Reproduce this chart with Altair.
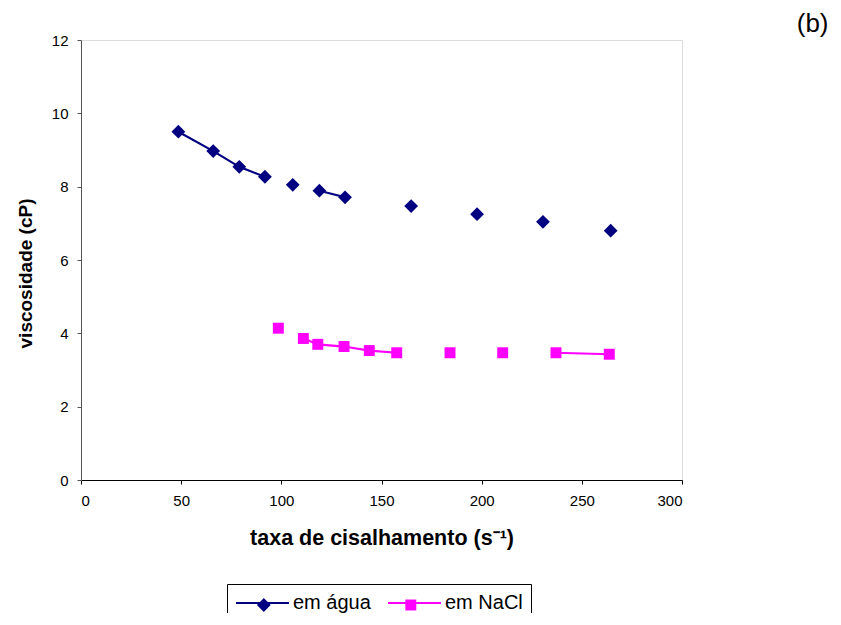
import altair as alt
import pandas as pd

series_names = ["em água", "em NaCl"]

x_agua = [48.6, 66.0, 79.0, 91.8, 105.7, 119.0, 131.8, 164.8, 197.7, 230.6, 264.4]
y_agua = [9.50, 8.97, 8.54, 8.27, 8.05, 7.89, 7.71, 7.47, 7.25, 7.04, 6.80]
seg_agua = [1, 1, 1, 1, 2, 3, 3, 4, 5, 6, 7]

x_nacl = [98.5, 111.0, 118.2, 131.3, 143.9, 157.6, 184.2, 210.5, 237.1, 263.7]
y_nacl = [4.14, 3.86, 3.70, 3.64, 3.53, 3.47, 3.47, 3.47, 3.47, 3.43]
seg_nacl = [1, 2, 2, 2, 2, 2, 3, 4, 5, 5]

x_ticks = [0, 50, 100, 150, 200, 250, 300]
y_ticks = [0, 2, 4, 6, 8, 10, 12]

rows = []
for xs, ys, segs, name in [(x_agua, y_agua, seg_agua, series_names[0]),
                           (x_nacl, y_nacl, seg_nacl, series_names[1])]:
    for xv, yv, sv in zip(xs, ys, segs):
        rows.append({"x": xv, "y": yv, "seg": f"{name}-{sv}", "series": name})
df = pd.DataFrame(rows)

FONT = "Liberation Sans"
colors = ["#000080", "#FF00FF"]

# legend of the lines (with border and labels)
legend_lines = alt.Legend(
    orient="none", legendX=146, legendY=544, direction="horizontal",
    title=None, strokeColor="black", padding=8, zindex=1,
    symbolType="M-1,0L4.3,0", symbolSize=400, symbolStrokeWidth=2,
    labelOffset=36, columnPadding=13,
    labelFont=FONT, labelFontSize=20, labelColor="black",
)
# legend of the markers, laid over the lines (no label text)
legend_marks = alt.Legend(
    orient="none", legendX=172.8, legendY=555, direction="horizontal",
    title=None, padding=0, zindex=2,
    symbolSize=110, symbolStrokeWidth=0, symbolOpacity=1,
    labelOffset=0, columnPadding=127, labelExpr="''",
    labelFont=FONT, labelFontSize=20,
)

x_enc = alt.X("x:Q", scale=alt.Scale(domain=[0, 300], nice=False),
              axis=alt.Axis(values=x_ticks, grid=False, title="taxa de cisalhamento (s⁻¹)",
                            domainColor="black", tickColor="black", tickSize=4,
                            labelFont=FONT, labelFontSize=15, labelColor="black", labelPadding=9,
                            titleFont=FONT, titleFontSize=21.5, titleFontWeight="bold",
                            titleColor="black", titleY=58, titleBaseline="middle"))
y_enc = alt.Y("y:Q", scale=alt.Scale(domain=[0, 12], nice=False),
              axis=alt.Axis(values=y_ticks, grid=False, title="viscosidade (cP)",
                            domainColor="#555555", tickColor="#555555", tickSize=4,
                            labelFont=FONT, labelFontSize=15, labelColor="black", labelPadding=9,
                            titleFont=FONT, titleFontSize=19, titleFontWeight="bold",
                            titleColor="black", titleX=-56, titleY=233, titleAngle=-90,
                            titleBaseline="middle"))

base = alt.Chart(df)

lines = base.mark_line(strokeWidth=2.2).encode(
    x=x_enc, y=y_enc,
    stroke=alt.Stroke("series:N", sort=series_names, scale=alt.Scale(range=colors),
                      legend=legend_lines),
    detail="seg:N",
)

points = base.mark_point(filled=True, opacity=1).encode(
    x=x_enc, y=y_enc,
    color=alt.Color("series:N", scale=alt.Scale(domain=series_names, range=colors),
                    legend=legend_marks),
    shape=alt.Shape("series:N", scale=alt.Scale(domain=series_names, range=["diamond", "square"]),
                    legend=legend_marks),
    size=alt.Size("series:N", scale=alt.Scale(domain=series_names, range=[190, 120]), legend=None),
)

chart = alt.layer(lines, points).properties(
    width=601, height=440,
    title=alt.TitleParams("(b)", anchor="end", font=FONT, fontSize=26, fontWeight="normal",
                          color="black", dx=146, dy=34, offset=4, baseline="bottom"),
    autosize=alt.AutoSizeParams(type="none"),
    padding={"left": 73, "top": 32, "right": 151, "bottom": 133},
).configure_view(stroke=None).configure(background="white")

chart.save("out.html", embed_options={"renderer": "svg", "actions": False})
